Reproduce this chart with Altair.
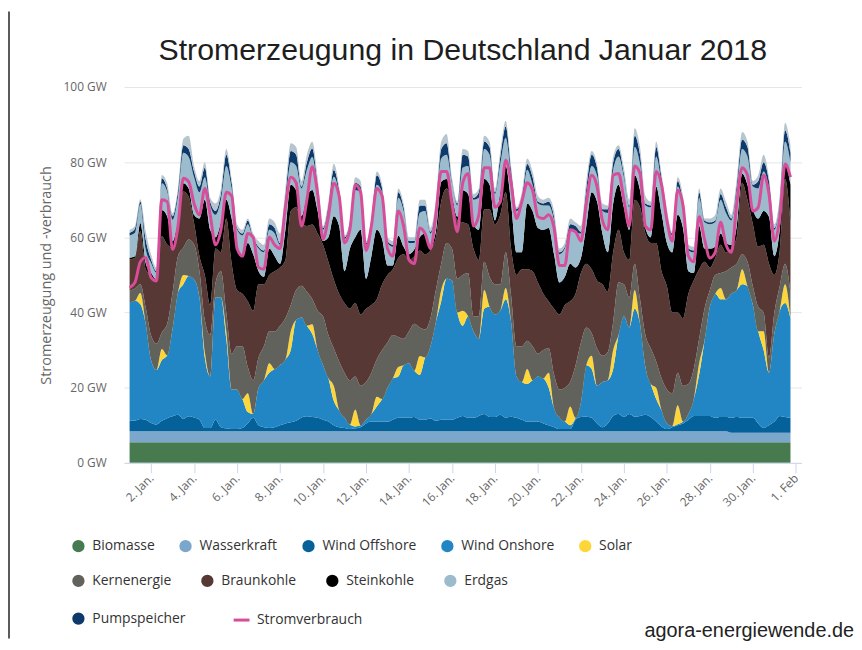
import altair as alt
import pandas as pd
import numpy as np

# ---------------- categories / labels ----------------
quellen = ["Biomasse", "Wasserkraft", "Wind Offshore", "Wind Onshore", "Solar",
           "Kernenergie", "Braunkohle", "Steinkohle", "Erdgas", "Pumpspeicher", "Sonstige"]
farben = ["#477b4f", "#7aa7cb", "#04619a", "#2386c4", "#fed637",
          "#62625d", "#573834", "#000000", "#9cbccd", "#0d3a6b", "#b7c5cf"]
legende_1 = ["Biomasse", "Wasserkraft", "Wind Offshore", "Wind Onshore", "Solar"]
legende_2 = ["Kernenergie", "Braunkohle", "Steinkohle", "Erdgas"]
farben_2 = ["#62625d", "#573834", "#000000", "#9cbccd"]
legende_3 = ["Pumpspeicher"]
tick_tage = [(1, 2), (1, 4), (1, 6), (1, 8), (1, 10), (1, 12), (1, 14), (1, 16),
             (1, 18), (1, 20), (1, 22), (1, 24), (1, 26), (1, 28), (1, 30), (2, 1)]
y_ticks = [0, 20, 40, 60, 80, 100]
titel = "Stromerzeugung in Deutschland Januar 2018"
quelle_url = "agora-energiewende.de"

# one reading every 6 hours, 1 Jan 00:00 ... 31 Jan 18:00
zeit = pd.date_range("2018-01-01 00:00", periods=124, freq="6h")

# ---------------- values (GW) ----------------
# upper edge of each stacked band
top_biomasse = [5.5, 5.5, 5.5, 5.5, 5.5, 5.5, 5.5, 5.5,
                5.5, 5.5, 5.5, 5.5, 5.5, 5.5, 5.5, 5.5,
                5.5, 5.5, 5.5, 5.5, 5.5, 5.5, 5.5, 5.5,
                5.5, 5.5, 5.5, 5.5, 5.5, 5.5, 5.5, 5.5,
                5.5, 5.5, 5.5, 5.5, 5.5, 5.5, 5.5, 5.5,
                5.5, 5.5, 5.5, 5.5, 5.5, 5.5, 5.5, 5.5,
                5.5, 5.5, 5.5, 5.5, 5.5, 5.5, 5.5, 5.5,
                5.5, 5.5, 5.5, 5.5, 5.5, 5.5, 5.5, 5.5,
                5.5, 5.5, 5.5, 5.5, 5.5, 5.5, 5.5, 5.5,
                5.5, 5.5, 5.5, 5.5, 5.5, 5.5, 5.5, 5.5,
                5.5, 5.5, 5.5, 5.5, 5.5, 5.5, 5.5, 5.5,
                5.5, 5.5, 5.5, 5.5, 5.5, 5.5, 5.5, 5.5,
                5.5, 5.5, 5.5, 5.5, 5.5, 5.5, 5.5, 5.5,
                5.5, 5.5, 5.5, 5.5, 5.5, 5.5, 5.5, 5.5,
                5.5, 5.5, 5.5, 5.5, 5.5, 5.5, 5.5, 5.5,
                5.5, 5.5, 5.5, 5.5]
top_wasser = [8.4, 8.4, 8.4, 8.4, 8.4, 8.4, 8.4, 8.4,
              8.4, 8.4, 8.4, 8.4, 8.4, 8.4, 8.4, 8.4,
              8.4, 8.4, 8.4, 8.4, 8.4, 8.4, 8.4, 8.4,
              8.4, 8.4, 8.4, 8.4, 8.4, 8.4, 8.4, 8.4,
              8.4, 8.4, 8.4, 8.4, 8.4, 8.4, 8.4, 8.4,
              8.4, 8.4, 8.4, 8.4, 8.4, 8.4, 8.4, 8.4,
              8.4, 8.4, 8.4, 8.4, 8.4, 8.4, 8.4, 8.4,
              8.4, 8.4, 8.4, 8.4, 8.4, 8.4, 8.4, 8.4,
              8.4, 8.4, 8.4, 8.4, 8.4, 8.4, 8.4, 8.4,
              8.4, 8.4, 8.4, 8.4, 8.4, 8.4, 8.4, 8.4,
              8.4, 8.4, 8.4, 8.4, 8.4, 8.4, 8.4, 8.4,
              8.4, 8.4, 8.4, 8.4, 8.4, 8.4, 8.4, 8.4,
              8.4, 8.4, 8.4, 8.4, 8.4, 8.4, 8.4, 8.4,
              8.4, 8.4, 8.4, 8.4, 8.4, 8.4, 8.4, 8.4,
              8.0, 8.0, 8.0, 8.0, 8.0, 8.0, 8.0, 8.0,
              8.0, 8.0, 8.0, 8.0]
top_offshore = [11.2, 11.3, 11.7, 11.5, 10.6, 10.2, 11.2, 11.9,
                12.4, 12.8, 11.7, 12.4, 12.1, 11.5, 9.3, 9.3,
                11.5, 9.5, 9.2, 9.0, 9.0, 9.3, 10.5, 12.0,
                10.0, 9.5, 9.3, 9.5, 10.0, 10.5, 10.8, 11.2,
                12.1, 12.4, 12.2, 12.0, 11.5, 11.0, 10.0, 9.5,
                9.3, 9.0, 9.2, 9.5, 10.5, 11.0, 11.0, 11.0,
                11.0, 11.5, 12.0, 12.0, 12.0, 12.2, 11.5, 11.5,
                11.8, 11.2, 11.5, 11.5, 11.5, 12.0, 12.5, 12.0,
                12.0, 12.5, 13.0, 12.2, 12.2, 12.8, 12.0, 12.3,
                12.0, 11.5, 11.0, 11.0, 11.0, 10.5, 10.0, 9.5,
                9.0, 9.0, 9.0, 11.5, 12.2, 12.3, 12.0, 10.5,
                9.5, 10.5, 12.5, 13.0, 12.2, 13.0, 12.3, 12.5,
                12.8, 12.2, 11.0, 9.7, 9.0, 9.5, 10.0, 10.5,
                11.5, 12.5, 12.5, 12.5, 12.5, 12.0, 12.2, 12.2,
                12.0, 12.2, 12.0, 12.0, 12.0, 10.5, 9.3, 10.0,
                11.0, 12.5, 12.2, 12.0]
top_onshore = [42.7, 43.1, 42.2, 37.0, 27.3, 24.7, 27.3, 28.6,
               35.7, 45.3, 47.5, 49.7, 48.8, 44.0, 28.0, 23.0,
               44.0, 44.0, 33.0, 19.5, 19.5, 17.0, 13.5, 13.0,
               20.0, 22.0, 24.0, 25.0, 26.0, 27.5, 30.0, 38.0,
               38.7, 36.5, 34.3, 30.0, 26.0, 22.5, 16.5, 14.0,
               12.0, 10.2, 9.7, 10.0, 11.5, 13.0, 15.0, 17.0,
               20.0, 22.5, 23.0, 26.0, 26.5, 24.5, 23.4, 28.0,
               31.0, 37.5, 43.0, 49.0, 48.5, 40.0, 36.5, 39.0,
               35.0, 33.0, 41.0, 41.5, 39.5, 40.5, 43.5, 37.5,
               23.0, 21.5, 21.0, 22.0, 23.0, 22.5, 20.0, 14.5,
               12.0, 11.0, 10.0, 12.0, 16.0, 26.0, 25.0, 20.5,
               21.5, 22.0, 25.0, 34.0, 39.0, 36.0, 41.0, 37.0,
               25.5, 21.0, 17.0, 14.0, 10.5, 9.8, 10.3, 11.0,
               13.0, 17.0, 23.5, 32.5, 41.5, 45.0, 43.5, 43.5,
               45.0, 46.0, 47.5, 47.0, 42.0, 35.0, 30.0, 24.0,
               34.5, 40.5, 42.5, 38.5]
# solar: thickness of the yellow band
solar = [0, 0, 3.0, 0, 0, 0, 3.0, 0,
         0, 0, 2.5, 0, 0, 0, 1.5, 0,
         0, 0, 2.0, 0, 0, 0, 5.0, 0,
         0, 0, 2.5, 0, 0, 0, 5.0, 0,
         0, 0, 2.6, 0, 0, 0, 4.0, 0,
         0, 0, 4.5, 0, 0, 0, 2.6, 0,
         0, 0, 2.5, 0, 0, 0, 5.0, 0,
         0, 0, 3.0, 0, 0, 0, 4.0, 0,
         0, 0, 5.0, 0, 0, 0, 3.0, 0,
         0, 0, 4.0, 0, 0, 0, 4.0, 0,
         0, 0, 5.0, 0, 0, 0, 3.5, 0,
         0, 0, 5.0, 0, 0, 0, 5.0, 0,
         0, 0, 3.0, 0, 0, 0, 5.0, 0,
         0, 0, 3.0, 0, 0, 0, 3.0, 0,
         0, 0, 4.0, 0, 0, 0, 5.0, 0,
         0, 0, 5.0, 0]
top_kern = [45.8, 46.4, 47.5, 41.4, 33.9, 31.7, 34.7, 37.0,
            45.3, 55.0, 57.2, 59.4, 58.1, 51.0, 38.0, 34.0,
            48.0, 51.0, 40.0, 29.0, 31.0, 31.0, 25.5, 22.0,
            28.0, 31.0, 35.0, 35.0, 36.5, 38.5, 42.0, 46.0,
            47.1, 45.5, 43.6, 40.5, 39.0, 34.0, 30.5, 27.0,
            24.0, 22.0, 23.0, 20.5, 21.5, 24.0, 27.5, 30.0,
            32.0, 34.0, 33.5, 33.0, 35.0, 37.0, 36.0, 35.5,
            38.5, 46.0, 53.0, 58.5, 57.0, 49.0, 50.0, 50.5,
            39.0, 39.0, 53.5, 49.5, 47.5, 47.5, 56.0, 44.5,
            31.0, 31.0, 32.5, 31.0, 29.0, 30.0, 30.5, 23.5,
            19.5, 20.0, 21.5, 26.0, 32.0, 36.0, 34.5, 30.5,
            28.5, 29.5, 37.5, 48.0, 47.5, 44.0, 53.0, 43.5,
            34.0, 30.5, 27.0, 22.5, 19.5, 18.5, 24.0, 20.5,
            21.0, 25.0, 33.0, 41.0, 46.0, 50.0, 50.5, 51.0,
            52.0, 53.0, 55.5, 53.5, 47.0, 41.5, 40.0, 28.0,
            40.0, 47.0, 53.0, 45.5]
top_braun = [54.1, 54.6, 61.6, 51.5, 49.7, 48.4, 60.3, 58.1,
             57.2, 62.9, 72.2, 70.8, 63.8, 55.0, 50.0, 42.0,
             57.0, 56.0, 65.0, 53.0, 46.0, 45.0, 43.0, 40.5,
             47.5, 47.5, 50.0, 51.0, 52.0, 54.0, 67.0, 68.0,
             64.0, 63.0, 63.4, 61.0, 58.0, 53.5, 48.8, 45.0,
             42.5, 41.0, 42.5, 39.5, 41.0, 42.0, 43.5, 47.5,
             50.0, 51.5, 54.5, 55.5, 54.0, 55.0, 56.5, 55.5,
             56.5, 60.0, 69.5, 73.0, 69.5, 64.5, 64.0, 63.5,
             57.0, 54.0, 67.5, 67.5, 63.5, 66.0, 72.0, 57.0,
             50.0, 51.5, 51.5, 51.0, 48.0, 45.0, 43.0, 41.0,
             39.5, 42.0, 43.0, 45.0, 50.5, 53.0, 51.5, 48.5,
             47.5, 45.5, 56.0, 62.0, 56.0, 54.0, 70.0, 68.0,
             61.0, 58.5, 58.5, 51.0, 47.0, 40.0, 40.0, 38.5,
             45.0, 48.5, 51.5, 53.5, 52.0, 54.5, 58.0, 56.0,
             57.0, 60.0, 74.5, 70.0, 63.5, 57.5, 58.0, 53.0,
             50.0, 56.5, 75.5, 64.0]
top_stein = [54.6, 55.0, 63.8, 53.2, 50.6, 48.8, 67.3, 65.6,
             59.0, 64.7, 74.4, 73.0, 66.0, 65.0, 70.0, 62.0,
             60.0, 64.0, 70.0, 65.0, 57.0, 55.0, 58.5, 55.5,
             51.0, 49.5, 57.0, 55.0, 53.0, 62.0, 74.0, 72.5,
             65.6, 71.0, 72.6, 67.0, 59.0, 60.0, 65.6, 63.0,
             51.0, 57.0, 60.0, 62.0, 49.0, 55.0, 62.0, 59.5,
             52.5, 52.5, 60.5, 57.5, 55.5, 56.8, 60.0, 61.0,
             58.0, 61.5, 74.8, 75.5, 71.0, 65.5, 72.5, 71.5,
             63.5, 62.0, 75.5, 74.0, 64.5, 72.0, 79.0, 69.0,
             56.0, 56.0, 69.0, 67.0, 62.5, 62.0, 62.5, 55.5,
             48.0, 49.5, 53.0, 52.0, 54.5, 63.0, 72.0, 69.5,
             61.0, 56.0, 69.0, 74.0, 68.0, 62.0, 76.5, 72.5,
             62.5, 60.0, 73.5, 66.5, 58.5, 56.0, 66.0, 62.5,
             51.0, 50.5, 63.0, 57.0, 57.0, 57.5, 61.0, 58.5,
             58.0, 63.0, 77.0, 74.0, 67.5, 65.0, 67.0, 65.5,
             55.0, 62.0, 80.0, 74.0]
top_gas = [60.5, 61.2, 68.9, 56.8, 53.2, 50.6, 74.4, 72.2,
           64.7, 70.8, 82.5, 81.4, 76.0, 72.0, 76.0, 68.5,
           66.0, 70.0, 79.0, 73.0, 62.0, 60.5, 63.5, 59.5,
           57.0, 56.0, 62.0, 61.0, 58.0, 69.0, 80.0, 79.0,
           73.0, 78.0, 81.4, 73.0, 62.0, 67.5, 76.1, 71.5,
           59.5, 63.5, 72.5, 72.0, 58.0, 63.5, 74.0, 72.0,
           58.5, 57.5, 70.5, 67.0, 58.5, 58.5, 66.5, 67.0,
           61.0, 67.5, 81.0, 82.0, 74.5, 68.5, 78.5, 79.0,
           70.0, 70.5, 83.5, 82.0, 71.5, 79.5, 86.5, 76.5,
           67.0, 69.0, 78.0, 74.0, 69.0, 68.5, 68.5, 64.5,
           55.5, 57.0, 62.0, 61.5, 61.0, 71.0, 79.0, 76.5,
           67.0, 66.5, 78.0, 81.5, 76.0, 68.0, 84.0, 79.5,
           68.5, 68.0, 81.5, 74.5, 65.0, 60.5, 73.5, 68.5,
           56.5, 56.0, 70.5, 64.0, 63.5, 64.0, 70.0, 66.5,
           64.5, 72.5, 83.5, 81.5, 73.5, 73.0, 77.5, 73.0,
           62.0, 69.0, 85.5, 80.0]
top_pump = [61.2, 62.3, 69.5, 59.4, 54.1, 51.0, 75.7, 73.0,
            65.6, 72.2, 84.5, 83.5, 77.5, 73.5, 78.5, 69.5,
            67.0, 71.5, 82.0, 74.5, 62.5, 61.0, 64.5, 60.0,
            57.5, 56.5, 63.5, 62.5, 58.5, 71.0, 83.0, 82.0,
            73.5, 80.0, 83.6, 74.0, 62.5, 68.5, 77.9, 72.5,
            60.0, 64.0, 74.5, 73.5, 58.5, 64.0, 76.5, 73.0,
            59.0, 58.0, 72.0, 68.0, 59.0, 59.0, 68.5, 68.5,
            61.5, 68.5, 83.5, 85.0, 75.0, 69.0, 82.0, 81.5,
            70.5, 72.0, 85.5, 84.0, 72.0, 81.5, 89.5, 78.0,
            67.5, 70.5, 79.5, 76.0, 69.5, 69.0, 69.5, 65.5,
            56.0, 57.5, 63.5, 63.0, 61.5, 73.0, 82.0, 78.5,
            67.5, 67.5, 80.0, 83.5, 77.0, 68.5, 87.0, 82.0,
            69.0, 68.5, 84.0, 76.0, 65.5, 61.0, 75.0, 69.5,
            57.0, 56.5, 72.0, 64.5, 64.0, 64.5, 71.5, 68.0,
            65.0, 74.0, 86.0, 84.0, 74.0, 75.0, 80.0, 75.0,
            62.5, 70.0, 88.5, 82.5]
top_gesamt = [62.0, 63.0, 70.1, 61.6, 55.4, 51.9, 76.6, 74.4,
              66.4, 73.0, 86.2, 87.0, 79.0, 75.0, 80.0, 70.5,
              69.0, 73.0, 83.5, 75.5, 63.5, 62.0, 65.0, 61.0,
              59.0, 58.0, 65.0, 64.0, 61.0, 73.0, 85.0, 84.0,
              75.0, 82.0, 85.4, 76.0, 63.0, 69.5, 79.6, 73.5,
              60.5, 64.5, 76.0, 75.0, 59.0, 65.0, 77.5, 74.0,
              60.0, 59.0, 73.0, 69.0, 60.0, 60.0, 70.0, 70.0,
              62.5, 70.0, 85.5, 87.5, 76.0, 69.5, 83.5, 83.0,
              71.5, 73.0, 87.0, 85.5, 73.0, 83.0, 91.0, 79.0,
              68.0, 72.0, 81.0, 77.5, 71.0, 70.0, 70.5, 67.0,
              57.0, 58.5, 65.0, 64.0, 63.0, 75.0, 83.0, 79.5,
              69.0, 68.5, 81.5, 84.5, 78.5, 70.0, 89.0, 84.0,
              71.0, 69.5, 85.5, 77.0, 67.5, 61.5, 76.0, 71.0,
              58.0, 57.5, 73.0, 65.0, 65.0, 66.0, 73.0, 69.5,
              66.0, 75.5, 88.0, 85.5, 75.0, 76.5, 82.0, 76.0,
              63.5, 71.0, 90.5, 84.5]
verbrauch = [46.6, 48.0, 53.5, 54.6, 49.3, 48.4, 70.0, 69.5,
             56.8, 62.9, 75.7, 74.8, 69.0, 66.0, 73.0, 66.0,
             58.0, 62.0, 72.0, 71.0, 57.0, 55.0, 61.0, 60.0,
             52.0, 51.5, 60.0, 58.0, 57.0, 68.0, 76.0, 74.5,
             63.0, 70.0, 78.8, 71.5, 59.5, 65.5, 74.4, 71.0,
             58.5, 62.0, 74.0, 72.0, 56.5, 63.0, 73.0, 71.0,
             57.0, 55.0, 67.0, 63.0, 54.0, 53.0, 62.5, 61.0,
             57.0, 66.0, 77.5, 77.5, 69.0, 61.5, 74.5, 77.0,
             63.0, 66.0, 78.5, 78.5, 68.0, 69.5, 80.5, 74.5,
             65.0, 69.5, 74.5, 72.5, 65.5, 65.0, 66.0, 62.5,
             52.5, 52.5, 62.0, 61.5, 59.0, 69.0, 76.5, 73.5,
             64.5, 62.0, 76.5, 77.0, 70.0, 63.0, 79.0, 77.0,
             63.0, 62.0, 77.5, 74.0, 64.5, 59.0, 72.5, 68.5,
             55.0, 53.5, 65.5, 59.5, 54.5, 56.0, 64.0, 58.0,
             56.0, 69.0, 78.5, 76.5, 67.0, 68.0, 76.5, 71.5,
             59.0, 65.0, 79.5, 76.0]

# ---------------- band thickness per source ----------------
a = {k: np.array(v, dtype=float) for k, v in dict(
    bio=top_biomasse, was=top_wasser, off=top_offshore, on=top_onshore, sol=solar,
    kern=top_kern, braun=top_braun, stein=top_stein, gas=top_gas, pump=top_pump,
    ges=top_gesamt).items()}
werte = {
    "Biomasse": a["bio"],
    "Wasserkraft": a["was"] - a["bio"],
    "Wind Offshore": a["off"] - a["was"],
    "Wind Onshore": a["on"] - a["off"],
    "Solar": a["sol"],
    "Kernenergie": a["kern"] - a["on"] - a["sol"],
    "Braunkohle": a["braun"] - a["kern"],
    "Steinkohle": a["stein"] - a["braun"],
    "Erdgas": a["gas"] - a["stein"],
    "Pumpspeicher": a["pump"] - a["gas"],
    "Sonstige": a["ges"] - a["pump"],
}
teile = []
for i, q in enumerate(quellen):
    teile.append(pd.DataFrame({"zeit": zeit, "quelle": q, "idx": i,
                               "gw": np.round(np.clip(werte[q], 0, None), 2)}))
df = pd.concat(teile, ignore_index=True)
df_v = pd.DataFrame({"zeit": zeit, "name": "Stromverbrauch", "gw": verbrauch})

# ---------------- styling ----------------
font = "Open Sans"
start = alt.DateTime(year=2017, month=12, date=31, hours=17, minutes=48)
ende = alt.DateTime(year=2018, month=2, date=1, hours=6, minutes=14)
x_scale = alt.Scale(domain=[start, ende])
y_scale = alt.Scale(domain=[0, 100], nice=False)

x_axis = alt.Axis(values=[alt.DateTime(year=2018, month=m, date=d) for m, d in tick_tage],
                  labelExpr="date(datum.value) + '. ' + (month(datum.value) == 0 ? 'Jan.' : 'Feb')",
                  labelAngle=315, labelAlign="right", labelBaseline="middle",
                  labelFont=font, labelFontSize=12, labelColor="#666666", labelPadding=3,
                  tickColor="#ccd6eb", tickSize=10, domainColor="#ccd6eb",
                  grid=False, title=None, labelOverlap=False, zindex=1)
y_axis = alt.Axis(values=y_ticks, labelExpr="datum.value + ' GW'",
                  labelFont=font, labelFontSize=12, labelColor="#666666", labelPadding=18,
                  ticks=False, tickSize=0, domain=False, grid=True, gridColor="#e6e6e6",
                  title="Stromerzeugung und -verbrauch", titleFont=font, titleFontSize=14.5,
                  titleFontWeight="normal", titleColor="#666666", titlePadding=10)

leg = dict(title=None, orient="none", direction="horizontal", symbolType="circle",
           symbolSize=154, symbolStrokeWidth=0, symbolOpacity=1, labelFont=font,
           labelFontSize=14, labelColor="#333333", labelOffset=7, columnPadding=24,
           padding=0, labelLimit=300)

flaechen = alt.Chart(df).mark_area(interpolate="monotone").encode(
    x=alt.X("zeit:T", scale=x_scale, axis=x_axis),
    y=alt.Y("gw:Q", stack="zero", scale=y_scale, axis=y_axis),
    color=alt.Color("quelle:N", scale=alt.Scale(domain=quellen, range=farben),
                    legend=alt.Legend(values=legende_1, legendX=-53, legendY=456, **leg)),
    order=alt.Order("idx:Q", sort="ascending"),
)

leg_line = dict(leg)
leg_line.update(symbolType="stroke", symbolSize=256, symbolStrokeWidth=3, labelOffset=6)
linie = alt.Chart(df_v).mark_line(interpolate="monotone", strokeWidth=3).encode(
    x=alt.X("zeit:T", scale=x_scale, axis=x_axis),
    y=alt.Y("gw:Q", scale=y_scale, axis=y_axis),
    stroke=alt.Stroke("name:N", scale=alt.Scale(domain=["Stromverbrauch"], range=["#d84d99"]),
                      legend=alt.Legend(legendX=109, legendY=528, **leg_line)),
)

leg_2 = dict(leg)
leg_2.update(columnPadding=29)
dummy_2 = alt.Chart(alt.Data(values=[{"n2": "Kernenergie"}])).transform_filter("false").mark_point(
    filled=True, opacity=1).encode(
    fill=alt.Fill("n2:N", scale=alt.Scale(domain=legende_2, range=farben_2),
                  legend=alt.Legend(legendX=-53, legendY=491, **leg_2)),
)
dummy_3 = alt.Chart(alt.Data(values=[{"n3": "Pumpspeicher"}])).transform_filter("false").mark_point(
    filled=True, opacity=1, color="#0d3a6b").encode(
    shape=alt.Shape("n3:N", scale=alt.Scale(domain=legende_3, range=["circle"]),
                    legend=alt.Legend(legendX=-53, legendY=529, **leg)),
)

titel_text = alt.Chart(alt.Data(values=[{}])).mark_text(
    align="center", baseline="alphabetic", font="Liberation Sans", fontSize=30.5, color="#1e1e1e"
).encode(x=alt.value(341.5), y=alt.value(-27), text=alt.value(titel))

quelle_text = alt.Chart(alt.Data(values=[{}])).mark_text(
    align="right", baseline="alphabetic", font="Liberation Sans", fontSize=20, color="#222222"
).encode(x=alt.value(736), y=alt.value(555), text=alt.value(quelle_url))

rahmen = alt.Chart(alt.Data(values=[{}])).mark_rule(color="#5a5a5a", strokeWidth=2).encode(
    x=alt.value(-116), y=alt.value(-76), y2=alt.value(556))

chart = alt.layer(flaechen, linie, dummy_2, dummy_3, titel_text, quelle_text, rahmen).properties(
    width=683, height=379, padding=0,
).configure_view(stroke=None)

chart.save("out.html", embed_options={"renderer": "svg", "actions": False})
